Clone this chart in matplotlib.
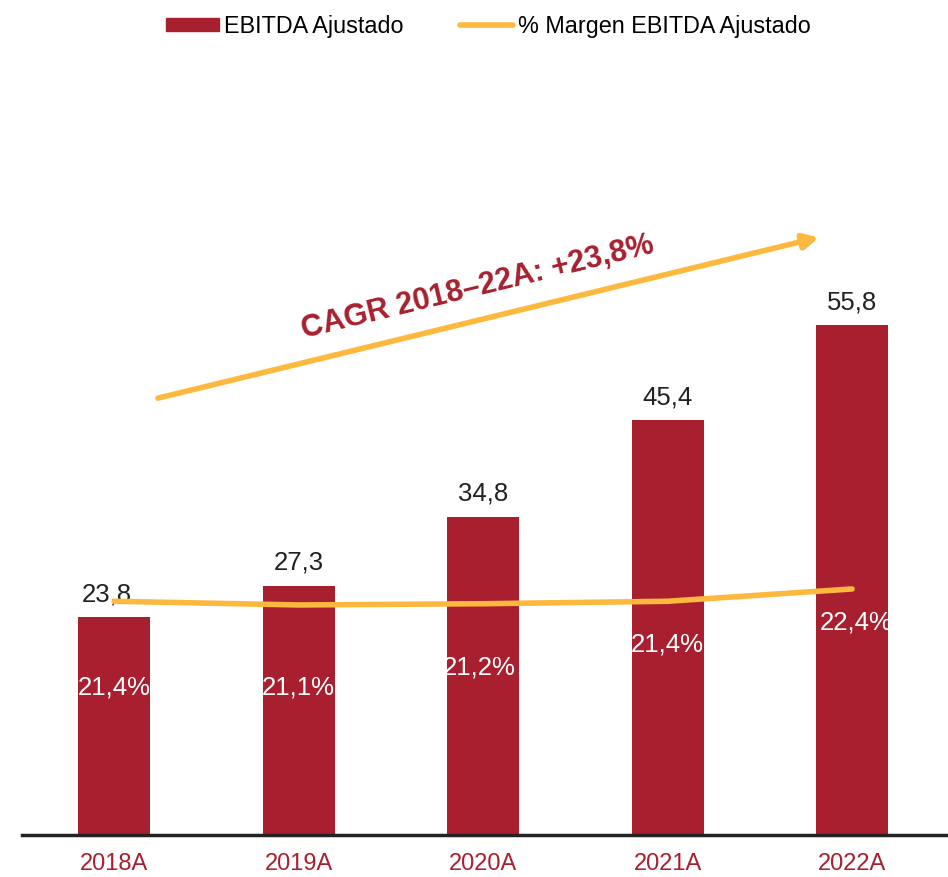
import matplotlib.pyplot as plt
import matplotlib.patheffects as pe
from matplotlib.lines import Line2D
from matplotlib.patches import Patch

years = ['2018A', '2019A', '2020A', '2021A', '2022A']
ebitda = [23.8, 27.3, 34.8, 45.4, 55.8]
margin = [21.4, 21.1, 21.2, 21.4, 22.4]
margin_labels = ['21,4%', '21,1%', '21,2%', '21,4%', '22,4%']
# vertical spot of the margin labels inside the bars (bar-axis units)
margin_label_y = [16.1, 16.1, 18.3, 20.8, 23.2]

red = '#A8202F'
yellow = '#FDB93E'

plt.rcParams['font.family'] = ['Liberation Sans', 'DejaVu Sans']

fig = plt.figure(figsize=(9.48, 8.77), dpi=100)
ax = fig.add_axes([22 / 948, 42 / 877, 926 / 948, 775 / 877])
x = list(range(len(years)))

ax.bar(x, ebitda, width=0.39, color=red, zorder=2)
ax.set_xlim(-0.5, 4.52)
ax.set_ylim(0, 84.8)
for s in ['top', 'right', 'left']:
    ax.spines[s].set_visible(False)
ax.spines['bottom'].set_linewidth(2.5)
ax.spines['bottom'].set_color('#222222')
ax.set_yticks([])
ax.set_xticks(x)
ax.set_xticklabels(years, color=red, fontsize=17)
ax.tick_params(axis='x', length=0, pad=13)

for i, v in enumerate(ebitda):
    ax.text(i - 0.04 if i == 0 else i, v + 1.2, f'{v:.1f}'.replace('.', ','),
            ha='center', va='bottom', fontsize=18.5, color='#222222', zorder=5)
    ax.text(i + (0.02 if i == 4 else 0) - (0.02 if i == 2 else 0), margin_label_y[i], margin_labels[i],
            ha='center', va='center', fontsize=18.5, color='white', zorder=5)

ax2 = ax.twinx()
ax2.set_ylim(2.4, 65.4)
ax2.axis('off')
ax2.plot(x, margin, color=yellow, lw=4, solid_capstyle='round', zorder=3)

# CAGR arrow
ax.annotate('', xy=(3.82, 65.4), xytext=(0.237, 47.8),
            arrowprops=dict(arrowstyle='-|>,head_length=0.9,head_width=0.45', color=yellow, lw=4,
                            shrinkA=0, shrinkB=0,
                            path_effects=[pe.SimplePatchShadow(offset=(1.5, -1.5), alpha=0.4), pe.Normal()]),
            zorder=4)
ax.text(1.97, 59.9, 'CAGR 2018–22A: +23,8%', rotation=13.7, rotation_mode='anchor',
        ha='center', va='center', fontsize=22, fontweight='bold', color=red, zorder=5)

handles = [Patch(color=red), Line2D([0], [0], color=yellow, lw=4, solid_capstyle='round')]
fig.legend(handles, ['EBITDA Ajustado', '% Margen EBITDA Ajustado'], loc='upper center',
           bbox_to_anchor=(0.515, 1.007), ncol=2, frameon=False, fontsize=16.8,
           handlelength=2.3, handleheight=0.5, handletextpad=0.2, columnspacing=2.4)

fig.savefig('out.png', dpi=100)
